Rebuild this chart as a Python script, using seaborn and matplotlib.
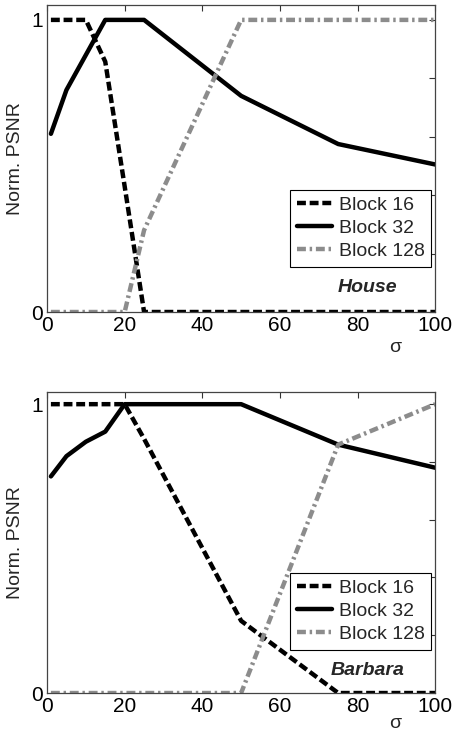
import numpy as np
import pandas as pd
import matplotlib
matplotlib.use('Agg')
import matplotlib.pyplot as plt
import seaborn as sns

# noise levels (sigma)
sigma = [1, 5, 10, 15, 20, 25, 50, 75, 100]
blocks = ['Block 16', 'Block 32', 'Block 128']

# House
house_b16 = [1.0, 1.0, 1.0, 0.857, 0.43, 0.0, 0.0, 0.0, 0.0]
house_b32 = [0.61, 0.76, 0.88, 1.0, 1.0, 1.0, 0.74, 0.575, 0.505]
house_b128 = [0.0, 0.0, 0.0, 0.0, 0.0, 0.28, 1.0, 1.0, 1.0]

# Barbara
barbara_b16 = [1.0, 1.0, 1.0, 1.0, 1.0, 0.88, 0.25, 0.0, 0.0]
barbara_b32 = [0.75, 0.82, 0.87, 0.905, 1.0, 1.0, 1.0, 0.86, 0.78]
barbara_b128 = [0.0, 0.0, 0.0, 0.0, 0.0, 0.0, 0.0, 0.86, 1.0]

sns.set_style('white')
plt.rcParams['font.family'] = ['Liberation Sans', 'DejaVu Sans']
plt.rcParams['font.size'] = 14

palette = {'Block 16': 'black', 'Block 32': 'black', 'Block 128': '#8c8c8c'}
dashes = {'Block 16': (2.0, 0.85), 'Block 32': '', 'Block 128': (2.0, 0.85, 0.55, 0.85)}
lw = 3.2


def make_df(b16, b32, b128):
    rows = []
    for name, vals in zip(blocks, [b16, b32, b128]):
        for s, v in zip(sigma, vals):
            rows.append({'sigma': s, 'psnr': v, 'block': name})
    return pd.DataFrame(rows)


fig = plt.figure(figsize=(4.53, 7.35), dpi=100)
ax1 = fig.add_axes([0.1038, 0.5755, 0.857, 0.4177])
ax2 = fig.add_axes([0.1038, 0.0571, 0.857, 0.4095])

panels = [
    (ax1, make_df(house_b16, house_b32, house_b128), 'House', 1.051, 0.147, 0.081),
    (ax2, make_df(barbara_b16, barbara_b32, barbara_b128), 'Barbara', 1.042, 0.143, 0.076),
]

for ax, df, name, ytop, leg_y, name_y in panels:
    sns.lineplot(data=df, x='sigma', y='psnr', hue='block', style='block',
                 hue_order=blocks, style_order=blocks, palette=palette,
                 dashes=dashes, linewidth=lw, ax=ax, legend=False)
    ax.set_xlim(0, 100)
    ax.set_ylim(0, ytop)
    ax.set_xticks([0, 20, 40, 60, 80, 100])
    ax.set_yticks([0, 0.2, 0.4, 0.6, 0.8, 1.0])
    ax.set_yticklabels(['0', '', '', '', '', '1'])
    ax.tick_params(direction='in', length=4, width=0.8, top=True, right=True,
                   pad=3, labelsize=15, colors='#333333', labelcolor='black')
    for sp in ax.spines.values():
        sp.set_color('#444444')
        sp.set_linewidth(0.9)
    ax.set_xlabel('')
    ax.set_ylabel('Norm. PSNR', fontsize=14)
    ax.yaxis.set_label_coords(-0.06, 0.5)

    handles = []
    for b in blocks:
        h, = ax.plot([], [], color=palette[b], linewidth=lw, label=b)
        if dashes[b]:
            h.set_dashes(dashes[b])
        handles.append(h)
    leg = ax.legend(handles=handles, loc='lower right', bbox_to_anchor=(0.99, leg_y),
                    fancybox=False, framealpha=1, edgecolor='black', fontsize=14,
                    handlelength=1.8, handletextpad=0.35, labelspacing=0.28,
                    borderpad=0.35, borderaxespad=0)
    leg.get_frame().set_linewidth(0.8)

    ax.text(0.825, name_y, name, transform=ax.transAxes, ha='center', va='center',
            fontsize=14, fontweight='bold', fontstyle='italic')

ax1.text(0.897, -0.115, 'σ', transform=ax1.transAxes, ha='center', va='center', fontsize=14)
ax2.text(0.897, -0.1, 'σ', transform=ax2.transAxes, ha='center', va='center', fontsize=14)

fig.savefig('out.png', dpi=100)
